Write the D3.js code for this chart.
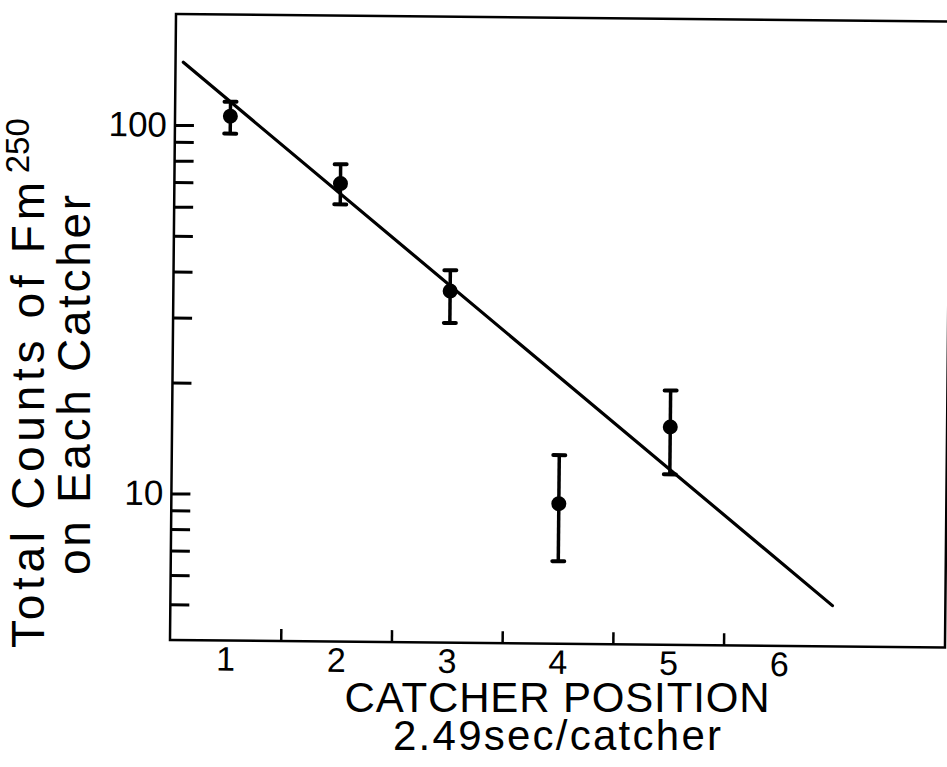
<!DOCTYPE html>
<html>
<head>
<meta charset="utf-8">
<script src="https://cdn.jsdelivr.net/npm/d3@7"></script>
<style>
  body { margin: 0; background: #fff; }
  text { font-family: "Liberation Sans", Arial, sans-serif; fill: #000; }
  .axis path, .axis line { stroke: #000; }
</style>
</head>
<body>
<svg width="947" height="767"></svg>
<script>
// catcher data
var positions = [1, 2, 3, 4, 5];
var counts = [106, 70, 36, 9.6, 15.6];
var errLow = [95, 61.5, 29.5, 6.7, 11.6];
var errHigh = [116, 79, 41, 13, 19.6];

// fitted decay line (end points)
var fitX = [0.57, 6.48];
var fitY = [148, 5.16];

var xLabelTicks = [1, 2, 3, 4, 5, 6];
var xMarkTicks = [1.5, 2.5, 3.5, 4.5, 5.5];
var yTicks = [5, 6, 7, 8, 9, 10, 20, 30, 40, 50, 60, 70, 80, 90, 100];
var yLabelled = [10, 100];

function draw_chart() {
    var svg = d3.select("svg");
    var plotLeft = 170, plotRight = 945, plotTop = 14, plotBottom = 640;

    // the scanned figure is slightly tilted
    var chart = svg.append("g")
        .attr("transform", "rotate(0.55," + plotLeft + "," + plotBottom + ")");

    var x = d3.scaleLinear().domain([0.5, 7.5]).range([plotLeft, plotRight]);
    var y = d3.scaleLog().domain([4, 200]).range([plotBottom, plotTop]);

    // frame
    chart.append("rect")
        .attr("x", plotLeft).attr("y", plotTop)
        .attr("width", plotRight - plotLeft).attr("height", plotBottom - plotTop)
        .attr("fill", "none").attr("stroke", "#000").attr("stroke-width", 2.5);

    // x ticks between the numbers, pointing in
    chart.append("g")
        .attr("class", "axis")
        .attr("transform", "translate(0," + plotBottom + ")")
        .call(d3.axisBottom(x).tickValues(xMarkTicks).tickSize(-12).tickFormat(""))
        .call(function (g) { g.select(".domain").remove(); })
        .selectAll("line").attr("stroke-width", 2.5);

    // x numbers
    chart.append("g")
        .attr("class", "axis")
        .attr("transform", "translate(0," + plotBottom + ")")
        .call(d3.axisBottom(x).tickValues(xLabelTicks).tickSize(0).tickPadding(6).tickFormat(d3.format("d")))
        .call(function (g) { g.select(".domain").remove(); })
        .selectAll("text")
        .attr("font-size", 34)
        .attr("font-family", "Liberation Sans, Arial, sans-serif");

    // y ticks, pointing in
    var yAxis = chart.append("g")
        .attr("class", "axis")
        .attr("transform", "translate(" + plotLeft + ",0)")
        .call(d3.axisLeft(y).tickValues(yTicks).tickSize(-19).tickPadding(8)
            .tickFormat(function (d) { return yLabelled.indexOf(d) >= 0 ? d : ""; }))
        .call(function (g) { g.select(".domain").remove(); });
    yAxis.selectAll("line").attr("stroke-width", 3);
    yAxis.selectAll("text")
        .attr("font-size", 35)
        .attr("font-family", "Liberation Sans, Arial, sans-serif");

    // fitted line
    chart.append("line")
        .attr("x1", x(fitX[0])).attr("y1", y(fitY[0]))
        .attr("x2", x(fitX[1])).attr("y2", y(fitY[1]))
        .attr("stroke", "#000").attr("stroke-width", 3.2)
        .attr("stroke-linecap", "round");

    // error bars
    var pts = positions.map(function (p, i) {
        return { x: p, v: counts[i], lo: errLow[i], hi: errHigh[i] };
    });

    var bars = chart.append("g").selectAll("g")
        .data(pts)
        .enter().append("g");

    bars.append("line")
        .attr("x1", function (d) { return x(d.x); })
        .attr("x2", function (d) { return x(d.x); })
        .attr("y1", function (d) { return y(d.lo); })
        .attr("y2", function (d) { return y(d.hi); })
        .attr("stroke", "#000").attr("stroke-width", 3.5);

    ["lo", "hi"].forEach(function (k) {
        bars.append("line")
            .attr("x1", function (d) { return x(d.x) - 6; })
            .attr("x2", function (d) { return x(d.x) + 6; })
            .attr("y1", function (d) { return y(d[k]); })
            .attr("y2", function (d) { return y(d[k]); })
            .attr("stroke", "#000").attr("stroke-width", 4)
            .attr("stroke-linecap", "round");
    });

    bars.append("circle")
        .attr("cx", function (d) { return x(d.x); })
        .attr("cy", function (d) { return y(d.v); })
        .attr("r", 7.5)
        .attr("fill", "#000");

    // axis titles
    svg.append("text")
        .attr("x", 557).attr("y", 712)
        .attr("text-anchor", "middle")
        .attr("font-size", 42)
        .attr("textLength", 425)
        .text("CATCHER POSITION");

    svg.append("text")
        .attr("x", 557).attr("y", 750)
        .attr("text-anchor", "middle")
        .attr("font-size", 42)
        .attr("textLength", 328)
        .text("2.49sec/catcher");

    var yTitle1 = svg.append("text")
        .attr("transform", "translate(44,648) rotate(-90)")
        .attr("font-size", 46);
    yTitle1.append("tspan").attr("textLength", 466).text("Total Counts of Fm");
    yTitle1.append("tspan").attr("font-size", 33).attr("dy", -15).attr("dx", 4).text("250");

    svg.append("text")
        .attr("transform", "translate(90,385) rotate(-90)")
        .attr("text-anchor", "middle")
        .attr("font-size", 46)
        .attr("textLength", 380)
        .text("on Each Catcher");
}

draw_chart();
</script>
</body>
</html>
